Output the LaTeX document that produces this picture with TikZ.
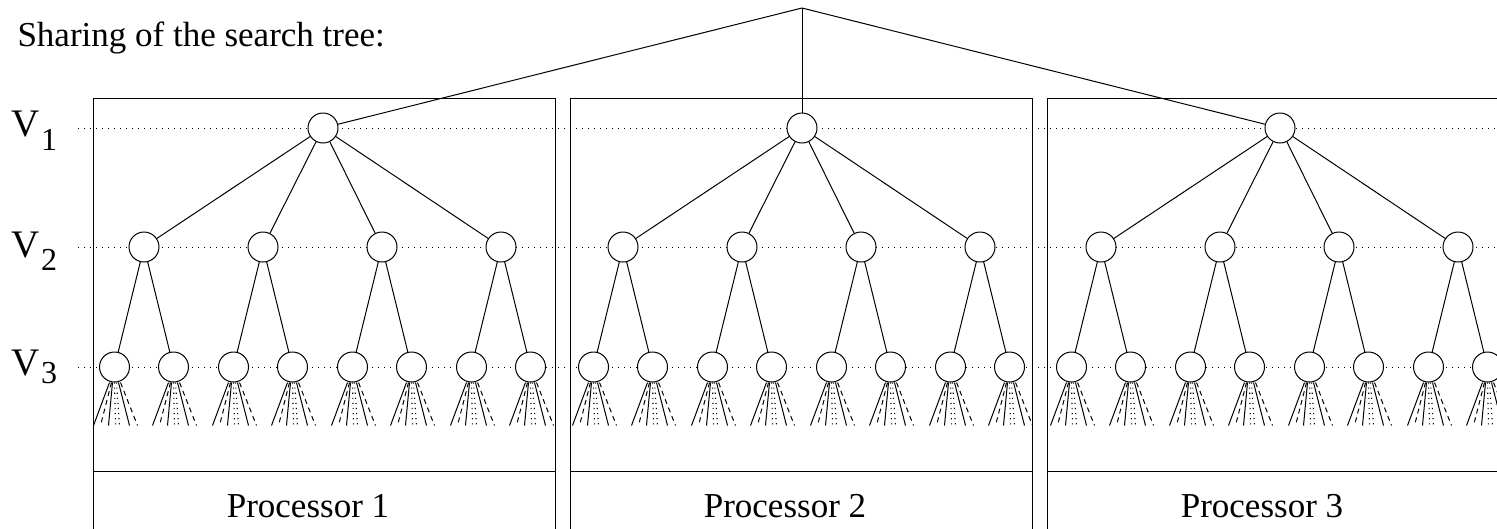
\documentclass[tikz,border=0pt]{standalone}
\usepackage{fontspec}
\setmainfont{Liberation Serif}
\begin{document}
\begin{tikzpicture}[x=1pt,y=-1pt,line width=1pt,
  vnode/.style={circle,draw,fill=white,minimum size=30pt,inner sep=0pt},
  levelline/.style={line width=1pt,dash pattern=on 1.2pt off 4.8pt},
  fansolid/.style={},
  fandash/.style={dash pattern=on 5pt off 4pt},
  fandot/.style={line width=1.1pt,dash pattern=on 1.1pt off 4pt},
  lbl/.style={anchor=base west,inner sep=0pt},
  vbig/.style={lbl,font=\fontsize{39}{40}\selectfont},
  vsub/.style={lbl,font=\fontsize{32}{32}\selectfont},
  proc/.style={anchor=base,inner sep=0pt,font=\fontsize{35}{40}\selectfont}]
\useasboundingbox (0,0) rectangle (1497,528);
\clip (0,0) rectangle (1497,528);

% title
\node[lbl,font=\fontsize{35}{40}\selectfont] (title) at (17,46) {Sharing of the search tree:};

% level labels
\node[vbig] (v1) at (11,136) {V};
\node[vsub] (s1) at (40.5,150) {1};
\node[vbig] (v2) at (11,257) {V};
\node[vsub] (s2) at (40.5,270) {2};
\node[vbig] (v3) at (11,375) {V};
\node[vsub] (s3) at (40.5,383) {3};

% processor boxes
\foreach \L/\n in {93/1,570/2,1047/3} {
  \draw (\L,530) -- (\L,98) -- (\L+462,98) -- (\L+462,530);
  \draw (\L,471) -- (\L+462,471);
  \node[proc] (p\n) at (\L+215,517) {Processor \n};
}

% level guide lines
\foreach \y/\k in {128/1,247/2,367/3} {
  \coordinate (gl\k) at (78,\y);
  \coordinate (gr\k) at (1500,\y);
  \draw[levelline] (gl\k) -- (gr\k);
}

% apex
\coordinate (top) at (802,8);

% trees
\foreach \b/\R in {1/323,2/802,3/1280} {
  \node[vnode] (r\b) at (\R,128) {};
  \draw (top) -- (r\b);
  \foreach \i/\d in {1/-179,2/-60,3/59,4/178} {
    \node[vnode] (m\b\i) at (\R+\d,247) {};
    \draw (r\b) -- (m\b\i);
    \foreach \j/\e in {1/-29.5,2/29.5} {
      \node[vnode] (l\b\i\j) at (\R+\d+\e,367) {};
      \draw (m\b\i) -- (l\b\i\j);
      \foreach \t/\bo/\s in {-5/-21/fansolid,-3/-14/fandash,-2/-6/fansolid,0/1/fandot,2/5/fandot,4/15/fansolid,6/23/fandash} {
        \draw[\s] ([xshift=\t pt]l\b\i\j.south) -- ([xshift=\bo pt,yshift=-43pt]l\b\i\j.south);
      }
    }
  }
}
\end{tikzpicture}
\end{document}
